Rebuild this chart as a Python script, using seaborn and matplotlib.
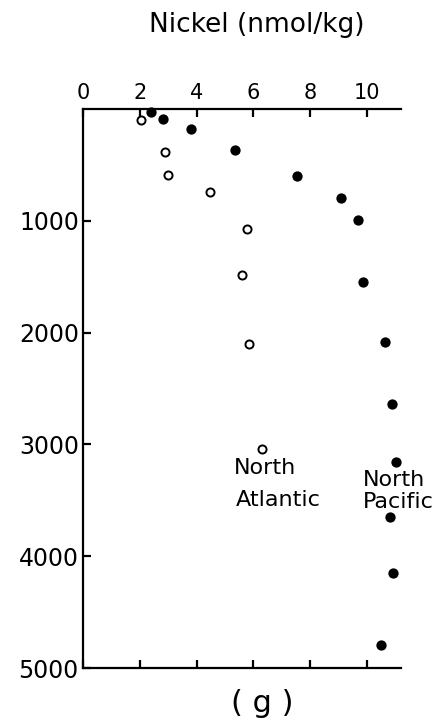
import numpy as np
import matplotlib
matplotlib.use("Agg")
import matplotlib.pyplot as plt
import pandas as pd
import seaborn as sns

# values: nickel (nmol/kg) vs depth (m)
atlantic_ni = [2.04, 2.9, 3.0, 4.47, 5.76, 5.59, 5.83, 6.31]
atlantic_depth = [98, 382, 590, 745, 1076, 1485, 2105, 3044]

pacific_ni = [2.38, 2.83, 3.80, 5.35, 7.55, 9.1, 9.7, 9.85, 10.65, 10.87, 11.02, 10.83, 10.93, 10.49]
pacific_depth = [24, 92, 176, 370, 596, 793, 993, 1547, 2087, 2641, 3157, 3652, 4147, 4794]

x_ticks = [0, 2, 4, 6, 8, 10]
y_ticks = [1000, 2000, 3000, 4000, 5000]

atl = pd.DataFrame({'ni': atlantic_ni, 'depth': atlantic_depth})
pac = pd.DataFrame({'ni': pacific_ni, 'depth': pacific_depth})

sns.set_style('ticks', {'axes.edgecolor': 'black', 'text.color': 'black',
                        'xtick.color': 'black', 'ytick.color': 'black',
                        'axes.labelcolor': 'black'})
plt.rcParams['font.family'] = ['DejaVu Sans']

fig = plt.figure(figsize=(4.44, 7.27), dpi=100)
ax = fig.add_axes([0.187, 0.081, 0.716, 0.769])

sns.scatterplot(data=pac, x='ni', y='depth', ax=ax, s=55, color='black',
                edgecolor='black', linewidth=0, clip_on=False)
sns.scatterplot(data=atl, x='ni', y='depth', ax=ax, s=34, facecolor='white',
                edgecolor='black', linewidth=1.4, clip_on=False)

ax.set_xlim(0, 11.2)
ax.set_ylim(5000, 0)

ax.xaxis.tick_top()
ax.xaxis.set_label_position('top')
ax.set_xticks(x_ticks)
ax.set_xticklabels([str(t) for t in x_ticks], fontsize=15)
ax.set_yticks(y_ticks)
ax.set_yticklabels([str(t) for t in y_ticks], fontsize=17)
ax.tick_params(axis='x', which='both', direction='in', length=6, width=1.6,
               top=True, bottom=True, labeltop=True, labelbottom=False, pad=4)
ax.tick_params(axis='y', direction='in', length=6, width=1.6, pad=3)

ax.set_xlabel('Nickel (nmol/kg)', fontsize=19)
ax.xaxis.set_label_coords(0.548, 1.138)
ax.set_ylabel('')

for side in ['top', 'left', 'bottom']:
    ax.spines[side].set_linewidth(1.6)
ax.spines['right'].set_visible(False)

ax.text(5.3, 3211, 'North', fontsize=16, ha='left', va='center')
ax.text(5.37, 3497, 'Atlantic', fontsize=16, ha='left', va='center')
ax.text(9.85, 3318, 'North', fontsize=16, ha='left', va='center')
ax.text(9.85, 3515, 'Pacific', fontsize=16, ha='left', va='center')

fig.text(262 / 444, 1 - 703 / 727, '( g )', fontsize=22, ha='center', va='center')

fig.savefig('out.png', dpi=100, facecolor='white')
